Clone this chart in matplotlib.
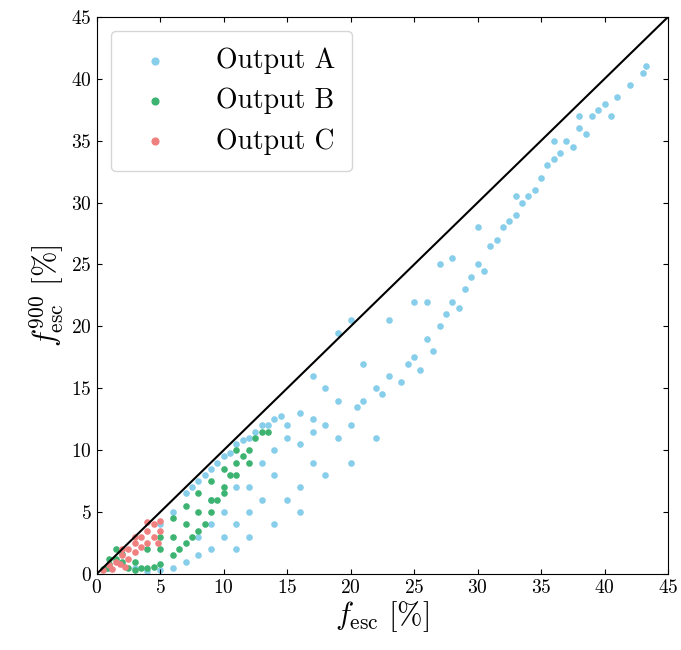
import matplotlib.pyplot as plt

plt.rcParams["mathtext.fontset"] = "cm"
plt.rcParams["font.family"] = "serif"
plt.rcParams["font.serif"] = ["cmr10", "DejaVu Serif"]
plt.rcParams["axes.formatter.use_mathtext"] = True

a_x = [5, 6, 7, 7.5, 8, 8.5, 9, 9.5, 10, 10.5, 11, 11.5, 12, 12.5, 13, 13.5, 14, 14.5,
       15, 16, 17, 18, 19, 20, 20.5, 21, 22, 22.5, 23, 24, 24.5, 25, 25.5, 26, 26.5, 27, 27.5, 28,
       28.5, 29, 29.5, 30, 30.5, 31, 31.5, 32, 32.5, 33, 33.5, 34, 34.5, 35, 35.5, 36, 36.5, 37,
       37.5, 38, 38.5, 39, 39.5, 40, 40.5, 41, 42, 43, 43.3,
       20, 19, 23, 25, 27, 30, 33, 17, 18, 21, 26, 28, 36, 38, 17, 19, 15, 16, 14, 13, 12, 11, 10,
       9, 8, 16, 18, 20, 22, 13, 12, 10, 9, 11, 14, 15, 17, 8, 7, 6, 5, 4, 3, 2, 1, 12, 14, 16, 11, 9]
a_y = [4, 5, 6.5, 7, 7.5, 8, 8.5, 9, 9.5, 9.8, 10.5, 10.8, 11, 11.5, 12, 12, 12.5, 12.8,
       11, 10.5, 11.5, 12, 11, 12, 13.5, 14, 15, 14.5, 16, 15.5, 17, 17.5, 16.5, 19, 18, 20, 21, 22,
       21.5, 23, 24, 25, 24.5, 26.5, 27, 28, 28.5, 29, 30, 30.5, 31, 32, 33, 33.5, 34, 35,
       34.5, 36, 35.5, 37, 37.5, 38, 37, 38.5, 39.5, 40.5, 41,
       20.5, 19.5, 20.5, 22, 25, 28, 30.5, 16, 15, 17, 22, 25.5, 35, 37, 12.5, 14, 12, 13, 8, 6, 5, 4, 3,
       2, 1.5, 7, 8, 9, 11, 9, 7, 5, 4, 7, 10, 6, 9, 3, 1, 0.5, 0.3, 0.2, 0.5, 0.8, 0.5, 3, 4, 5, 2, 6]

b_x = [0.5, 1, 1.5, 2, 2.5, 3, 4, 5, 6, 6.5, 7, 7.5, 8, 8.5, 9, 9.5, 10, 10.5, 11, 11.5, 12, 12.5,
       13, 13.5, 5, 6, 7, 8, 9, 10, 11, 1.5, 2, 3, 4, 5, 6, 7, 8, 9, 10, 1, 0.8, 3.5, 4.5, 12, 11]
b_y = [0.4, 0.8, 1.2, 1.6, 0.5, 0.3, 0.5, 0.8, 1.5, 2, 2.5, 3, 3.5, 4, 5, 6, 7, 8, 9, 9.5, 10, 11,
       11.5, 11.5, 3, 4.5, 5.5, 6.5, 7.5, 8.5, 10, 2, 1, 1, 2, 2, 3, 4, 5, 6, 6.5, 1.2, 0.5, 0.5, 0.6, 9, 8]

c_x = [0.5, 1, 1.5, 2, 2.5, 3, 3.5, 4, 4.5, 5, 1.8, 2.5, 3, 3.5, 4, 4.5, 5, 2, 3, 4, 1.2, 2.2, 4.8]
c_y = [0.3, 0.7, 1, 1.5, 2, 2.5, 3, 3.5, 4, 4.3, 0.8, 1.2, 1.8, 2.2, 2.5, 3, 3.5, 2, 3, 4.2, 0.4, 0.6, 2.5]

fig = plt.figure(figsize=(6.81, 6.5), dpi=100)
ax = fig.add_axes([0.142, 0.117, 0.839, 0.857])
ax.scatter(a_x, a_y, s=14, color="#87CEEB", label="Output A")
ax.scatter(b_x, b_y, s=14, color="#3CB371", label="Output B")
ax.scatter(c_x, c_y, s=14, color="#F08080", label="Output C")
ax.plot([0, 45], [0, 45], color="black", lw=1.5)
ax.set_xlim(0, 45)
ax.set_ylim(0, 45)
ax.set_xticks(range(0, 46, 5))
ax.set_yticks(range(0, 46, 5))
ax.tick_params(direction="in", top=True, right=True, labelsize=14)
ax.set_xlabel(r"$f_{\rm esc}\ [\%]$", fontsize=22, labelpad=2)
ax.set_ylabel(r"$f_{\rm esc}^{900}\ [\%]$", fontsize=22)
ax.legend(loc="upper left", fontsize=20, markerscale=1.3, handletextpad=1.2, borderpad=0.6)
fig.savefig("out.png")
